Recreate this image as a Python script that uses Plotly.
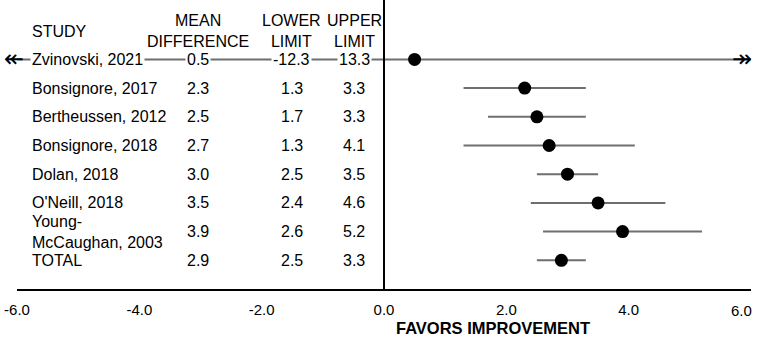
import plotly.graph_objects as go

studies = ["Zvinovski, 2021", "Bonsignore, 2017", "Bertheussen, 2012", "Bonsignore, 2018",
           "Dolan, 2018", "O'Neill, 2018", "Young-<br>McCaughan, 2003", "TOTAL"]
mean_diff = [0.5, 2.3, 2.5, 2.7, 3.0, 3.5, 3.9, 2.9]
lower = [-12.3, 1.3, 1.7, 1.3, 2.5, 2.4, 2.6, 2.5]
upper = [13.3, 3.3, 3.3, 4.1, 3.5, 4.6, 5.2, 3.3]
tick_vals = [-6, -4, -2, 0, 2, 4, 6]
tick_text = ["-6.0", "-4.0", "-2.0", "0.0", "2.0", "4.0", "6.0"]

n = len(studies)
rows = [n - i for i in range(n)]  # 8 .. 1

FONT = "Liberation Sans, Arial, sans-serif"
fig = go.Figure()

fig.add_trace(go.Scatter(
    x=mean_diff, y=rows, mode="markers",
    marker=dict(color="black", size=13),
    error_x=dict(type="data", symmetric=False,
                 array=[u - m for u, m in zip(upper, mean_diff)],
                 arrayminus=[m - l for m, l in zip(mean_diff, lower)],
                 color="#6e6e6e", thickness=2, width=0),
    hoverinfo="skip", showlegend=False,
))

col_study = -5.79
col_mean = -3.04
col_low = -1.51
col_up = -0.49

anns = []
def txt(x, y, s, anchor="center", bg=None, align="center"):
    d = dict(x=x, y=y, xref="x", yref="y", text=s, showarrow=False,
             xanchor=anchor, yanchor="middle", align=align,
             font=dict(family=FONT, size=16, color="black"))
    if bg:
        d.update(bgcolor=bg, borderpad=1)
    anns.append(d)

hy = 8.98
txt(col_study, hy, "STUDY", anchor="left")
txt(col_mean, hy, "MEAN<br>DIFFERENCE")
txt(col_low, hy, "LOWER<br>LIMIT")
txt(col_up, hy, "UPPER<br>LIMIT")

for i in range(n):
    clipped_lo = lower[i] < tick_vals[0]
    clipped_hi = upper[i] > tick_vals[-1]
    bg = "white" if (clipped_lo or clipped_hi) else None
    txt(col_study, rows[i], studies[i], anchor="left", bg=bg, align="left")
    txt(col_mean, rows[i], f"{mean_diff[i]:.1f}", bg=bg)
    txt(col_low, rows[i], f"{lower[i]:.1f}", bg=bg)
    txt(col_up, rows[i], f"{upper[i]:.1f}", bg=bg)
    if clipped_lo:
        anns.append(dict(x=0, xref="paper", y=rows[i], yref="y", text="↞",
                         showarrow=False, xanchor="left", yanchor="middle", xshift=-15,
                         font=dict(family="DejaVu Sans", size=24, color="black")))
    if clipped_hi:
        anns.append(dict(x=1, xref="paper", y=rows[i], yref="y", text="↠",
                         showarrow=False, xanchor="right", yanchor="middle", xshift=3,
                         font=dict(family="DejaVu Sans", size=24, color="black")))

# right-most tick label pulled inside the page, like the reference
anns.append(dict(x=tick_vals[-1], xref="x", y=0, yref="paper", text=tick_text[-1],
                 showarrow=False, xanchor="right", yanchor="middle", yshift=-21, xshift=3,
                 font=dict(family=FONT, size=15, color="black")))
shown_ticks = tick_text[:-1] + [""]

anns.append(dict(x=1.79, y=0, xref="x", yref="paper", text="<b>FAVORS IMPROVEMENT</b>",
                 showarrow=False, xanchor="center", yanchor="middle", yshift=-39,
                 font=dict(family=FONT, size=16.5, color="black")))

fig.add_shape(type="line", x0=0, x1=0, y0=0, y1=1, xref="x", yref="paper",
              line=dict(color="black", width=2))

fig.update_layout(
    width=765, height=340,
    margin=dict(l=17, r=14, t=0, b=51, autoexpand=False),
    paper_bgcolor="white", plot_bgcolor="white",
    annotations=anns,
    xaxis=dict(range=[-6, 6], tickvals=tick_vals, ticktext=shown_ticks, automargin=False,
               showgrid=False, zeroline=False, showline=True, linecolor="black",
               linewidth=2, ticks="", ticklabelstandoff=6,
               tickfont=dict(family=FONT, size=15, color="black")),
    yaxis=dict(range=[0, 10.07], visible=False, showgrid=False, zeroline=False,
               automargin=False),
)

fig.write_html("out.html", config={"displayModeBar": False},
               post_script="document.body.style.margin='0';")
